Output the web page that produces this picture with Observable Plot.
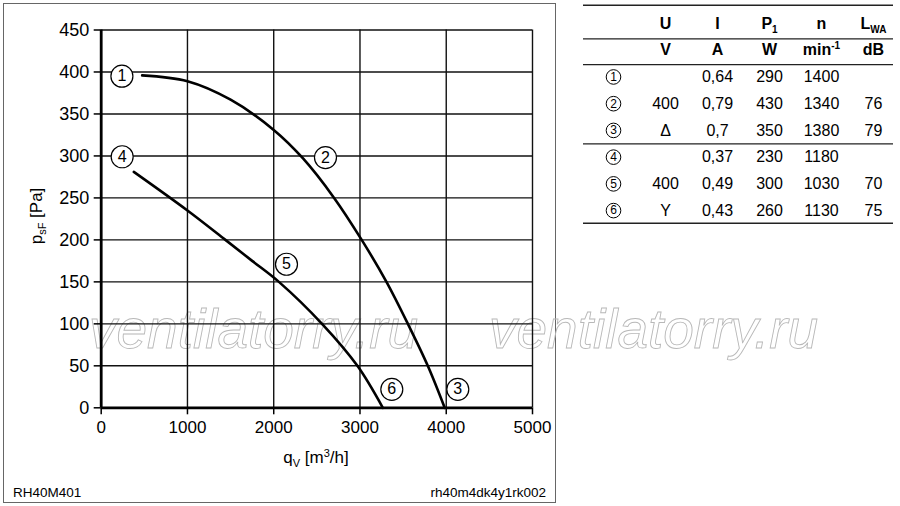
<!DOCTYPE html>
<html>
<head>
<meta charset="utf-8">
<script src="https://cdn.jsdelivr.net/npm/d3@7"></script>
<script src="https://cdn.jsdelivr.net/npm/@observablehq/plot@0.6"></script>
<style>
html, body { margin: 0; padding: 0; background: #fff; }
#wrap { position: relative; width: 900px; height: 506px; overflow: hidden; }
#wrap > svg { position: absolute; }
</style>
</head>
<body>
<div id="wrap"></div>
<script>
// ---- data ----
const flowTicks = [0, 1000, 2000, 3000, 4000, 5000];
const pressureTicks = [0, 50, 100, 150, 200, 250, 300, 350, 400, 450];

// Delta connection curve (1-2-3)
const deltaQ = [475, 1000, 1500, 2000, 2340, 2700, 3020, 3307, 3555, 3786, 3982];
const deltaP = [396, 389, 367, 331, 297, 250, 200, 150, 100, 50, 0];
// Star connection curve (4-5-6)
const starQ = [378, 1000, 1440, 1750, 2060, 2560, 2970, 3265];
const starP = [281, 235, 200, 175, 150, 100, 50, 0];

// circled operating-point labels
const labelIds = ["1", "2", "3", "4", "5", "6"];
const labelQ = [240, 2600, 4134, 243, 2148, 3369];
const labelP = [395, 298, 22, 299, 171, 22];

// table
const tableCols = ["id", "U", "I", "P", "n", "L"];
const headTop = ["U", "I", "P1", "n", "LWA"];
const headUnit = ["V", "A", "W", "min-1", "dB"];
const tableIds = ["1", "2", "3", "4", "5", "6"];
const colU = ["", "400", "Δ", "", "400", "Y"];
const colI = ["0,64", "0,79", "0,7", "0,37", "0,49", "0,43"];
const colP = ["290", "430", "350", "230", "300", "260"];
const colN = ["1400", "1340", "1380", "1180", "1030", "1130"];
const colL = ["", "76", "79", "", "70", "75"];
const groupSize = 3;

const modelName = "RH40M401";
const drawingCode = "rh40m4dk4y1rk002";
const watermark = "ventilatorry.ru";

// ---- build ----
const font = '"Liberation Sans", Arial, Helvetica, sans-serif';
const wrap = document.getElementById("wrap");

// background layer: frame, watermark, footer
const bg = d3.create("svg").attr("width", 900).attr("height", 506)
  .style("left", "0px").style("top", "0px").attr("font-family", font);
bg.append("rect").attr("x", 3.5).attr("y", 3.5).attr("width", 552).attr("height", 499)
  .attr("fill", "none").attr("stroke", "#666").attr("stroke-width", 1);
[89, 489].forEach(x => {
  bg.append("text").attr("x", x).attr("y", 348).attr("font-size", 55)
    .attr("font-style", "italic").attr("fill", "none")
    .attr("stroke", "#b8b8b8").attr("stroke-width", 0.9).text(watermark);
});
bg.append("text").attr("x", 13).attr("y", 497).attr("font-size", 13.5).attr("fill", "#000").text(modelName);
bg.append("text").attr("x", 546).attr("y", 497).attr("font-size", 13.5).attr("fill", "#000")
  .attr("text-anchor", "end").text(drawingCode);
wrap.appendChild(bg.node());

// main chart
const deltaCurve = deltaQ.map((q, i) => ({q, p: deltaP[i]}));
const starCurve = starQ.map((q, i) => ({q, p: starP[i]}));
const labels = labelIds.map((id, i) => ({id, q: labelQ[i], p: labelP[i]}));

const chart = Plot.plot({
  width: 560,
  height: 506,
  marginLeft: 100.7,
  marginRight: 28,
  marginTop: 29.5,
  marginBottom: 98.7,
  style: {fontFamily: font, background: "transparent", color: "#000", overflow: "visible"},
  x: {domain: [0, 5000], label: null},
  y: {domain: [0, 450], label: null},
  marks: [
    Plot.gridX({ticks: flowTicks.slice(1), stroke: "#111", strokeOpacity: 1, strokeWidth: 1.4}),
    Plot.gridY({ticks: pressureTicks.slice(1), stroke: "#111", strokeOpacity: 1, strokeWidth: 1.4}),
    Plot.axisX({ticks: flowTicks, tickSize: 7, tickPadding: 6, fontSize: 17,
      tickFormat: d3.format("d"), label: null, strokeWidth: 1.5}),
    Plot.axisY({ticks: pressureTicks, tickSize: 7, tickPadding: 5, fontSize: 18,
      tickFormat: d3.format("d"), label: null, strokeWidth: 1.5}),
    Plot.ruleX([0], {stroke: "#000", strokeWidth: 2.8}),
    Plot.ruleY([0], {stroke: "#000", strokeWidth: 2.8}),
    Plot.line(deltaCurve, {x: "q", y: "p", curve: "catmull-rom", stroke: "#000", strokeWidth: 2.6}),
    Plot.line(starCurve, {x: "q", y: "p", curve: "catmull-rom", stroke: "#000", strokeWidth: 2.6}),
    Plot.dot(labels, {x: "q", y: "p", r: 11, fill: "white", stroke: "#000", strokeWidth: 1.2}),
    Plot.text(labels, {x: "q", y: "p", text: "id", fontSize: 16, fill: "#000"})
  ]
});
chart.style.left = "0px";
chart.style.top = "0px";
{
  const sv = d3.select(chart);
  const yl = sv.append("text").attr("transform", "translate(42,216) rotate(-90)")
    .attr("text-anchor", "middle").attr("font-size", 17).attr("font-family", font).attr("fill", "#000");
  yl.append("tspan").text("p");
  yl.append("tspan").text("sF").attr("font-size", 11).attr("dy", 4);
  yl.append("tspan").text(" [Pa]").attr("dy", -4);
  const xl = sv.append("text").attr("x", 316).attr("y", 463)
    .attr("text-anchor", "middle").attr("font-size", 17).attr("font-family", font).attr("fill", "#000");
  xl.append("tspan").text("q");
  xl.append("tspan").text("V").attr("font-size", 11).attr("dy", 4);
  xl.append("tspan").text(" [m").attr("dy", -4);
  xl.append("tspan").text("3").attr("font-size", 11).attr("dy", -6);
  xl.append("tspan").text("/h]").attr("dy", 6);
}
wrap.appendChild(chart);

// table
const headerCells = [];
headTop.forEach((t, j) => headerCells.push({row: 0, col: tableCols[j + 1], text: t}));
headUnit.forEach((t, j) => headerCells.push({row: 1, col: tableCols[j + 1], text: t}));
const bodyCells = [];
const idCells = [];
tableIds.forEach((id, i) => {
  const row = i + 2;
  idCells.push({row, col: "id", text: id});
  [colU[i], colI[i], colP[i], colN[i], colL[i]].forEach((t, j) => {
    if (t !== "") bodyCells.push({row, col: tableCols[j + 1], text: t});
  });
});
const lastRow = tableIds.length + 1;

const table = Plot.plot({
  width: 320,
  height: 230,
  marginLeft: 3,
  marginRight: 7,
  marginTop: 0,
  marginBottom: 0,
  style: {fontFamily: font, background: "transparent", color: "#000", overflow: "visible"},
  x: {type: "point", domain: tableCols, range: [31, 295], padding: 0, axis: null},
  y: {domain: [0, lastRow], range: [23, 210.1], axis: null},
  marks: [
    Plot.ruleY([-0.5], {dy: -5, stroke: "#222", strokeWidth: 1.5}),
    Plot.ruleY([0.5], {dy: 2, stroke: "#222", strokeWidth: 1.2}),
    Plot.ruleY([1.5], {dy: 1, stroke: "#222", strokeWidth: 1.2}),
    Plot.ruleY([1.5 + groupSize], {stroke: "#222", strokeWidth: 1.2}),
    Plot.ruleY([lastRow + 0.5], {dy: -0.7, stroke: "#222", strokeWidth: 1.5}),
    Plot.text(headerCells, {x: "col", y: "row", text: "text", fontSize: 16, fontWeight: "bold", fill: "#000"}),
    Plot.text(bodyCells, {x: "col", y: "row", text: "text", fontSize: 16, fill: "#000"}),
    Plot.dot(idCells, {x: "col", y: "row", r: 7.3, fill: "white", stroke: "#000", strokeWidth: 1}),
    Plot.text(idCells, {x: "col", y: "row", text: "text", fontSize: 12, fill: "#000"})
  ]
});
table.style.left = "580px";
table.style.top = "0px";
{
  const rich = {
    "P1": [["P", 0], ["1", 1]],
    "LWA": [["L", 0], ["WA", 1]],
    "min-1": [["min", 0], ["-1", -1]]
  };
  d3.select(table).selectAll("text").each(function () {
    const t = this.textContent;
    if (!rich[t]) return;
    const sel = d3.select(this);
    sel.text(null);
    rich[t].forEach(([s, k]) => {
      const ts = sel.append("tspan").text(s);
      if (k === 1) ts.attr("font-size", 10).attr("dy", 4);
      if (k === -1) ts.attr("font-size", 10).attr("dy", -6);
    });
  });
}
wrap.appendChild(table);
</script>
</body>
</html>
